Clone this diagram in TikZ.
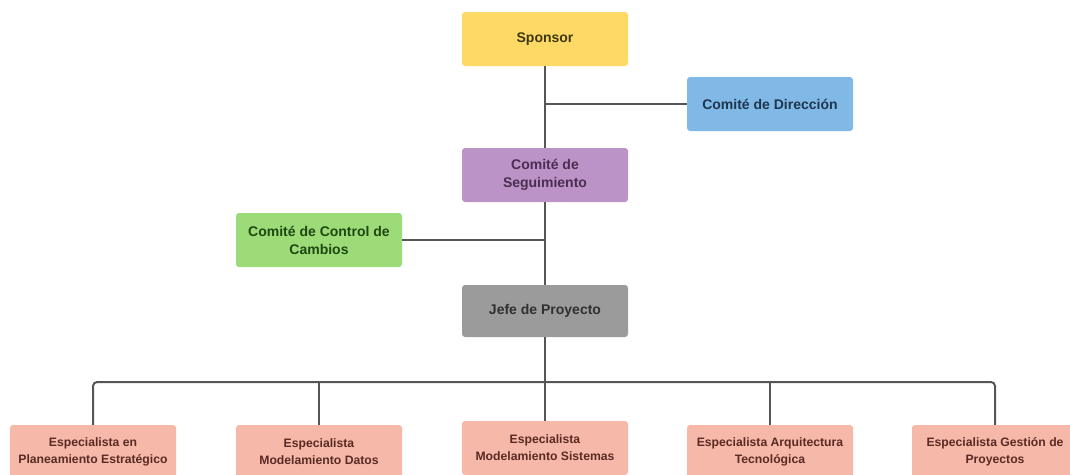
\documentclass[tikz,border=0pt]{standalone}
\usepackage{fontspec}
\setmainfont{Liberation Sans}
\usepackage{xcolor}
\definecolor{sponsorfill}{HTML}{FFD966}
\definecolor{sponsortext}{HTML}{3D3810}
\definecolor{dirfill}{HTML}{80B9E6}
\definecolor{dirtext}{HTML}{1E3650}
\definecolor{segfill}{HTML}{BC93C6}
\definecolor{segtext}{HTML}{4A2E52}
\definecolor{ctrlfill}{HTML}{9CDB78}
\definecolor{ctrltext}{HTML}{1F4710}
\definecolor{jefefill}{HTML}{9B9B9B}
\definecolor{jefetext}{HTML}{303030}
\definecolor{espfill}{HTML}{F6B9A9}
\definecolor{esptext}{HTML}{5A2A24}
\definecolor{linkgray}{HTML}{555555}

\begin{document}
\begin{tikzpicture}[x=1pt,y=-1pt,
  box/.style={rounded corners=3pt,minimum width=166pt,minimum height=54pt,inner sep=0pt,
    align=center,font=\bfseries\fontsize{14}{18}\selectfont},
  espbox/.style={box,fill=espfill,text=esptext,font=\bfseries\fontsize{12.2}{17}\selectfont},
  link/.style={draw=linkgray,line width=2pt}]
\useasboundingbox (0,0) rectangle (1070,474);
\clip (0,0) rectangle (1070,474);
% upper chain
\node[box,fill=sponsorfill,text=sponsortext] (spon) at (545,39) {Sponsor};
\node[box,fill=dirfill,text=dirtext] (dir) at (770,104) {Comité de Dirección};
\node[box,fill=segfill,text=segtext] (segu) at (545,175) {Comité de\\Seguimiento};
\node[box,fill=ctrlfill,text=ctrltext] (ctrl) at (319,240) {Comité de Control de\\Cambios};
\node[box,fill=jefefill,text=jefetext,minimum height=52pt] (jefe) at (545,311) {Jefe de Proyecto};
% specialists
\node[espbox] (esp1) at (93,452) {Especialista en\\Planeamiento Estratégico};
\node[espbox] (esp2) at (319,452) {Especialista\\Modelamiento Datos};
\node[espbox] (esp3) at (545,448) {Especialista\\Modelamiento Sistemas};
\node[espbox] (esp4) at (770,452) {Especialista Arquitectura\\Tecnológica};
\node[espbox] (esp5) at (995,452) {Especialista Gestión de\\Proyectos};
\coordinate (bus) at (545,382);
% connectors
\draw[link] (spon) -- (segu);
\draw[link] (dir.west) -- (dir.west -| spon.south);
\draw[link] (segu) -- (jefe);
\draw[link] (ctrl.east) -- (ctrl.east -| segu.south);
\draw[link] (jefe) -- (bus);
\draw[link,rounded corners=4pt] (esp1.north) |- (bus) -| (esp5.north);
\foreach \n in {esp2,esp3,esp4}{\draw[link] (\n.north) -- (\n.north |- bus);}
\end{tikzpicture}
\end{document}
